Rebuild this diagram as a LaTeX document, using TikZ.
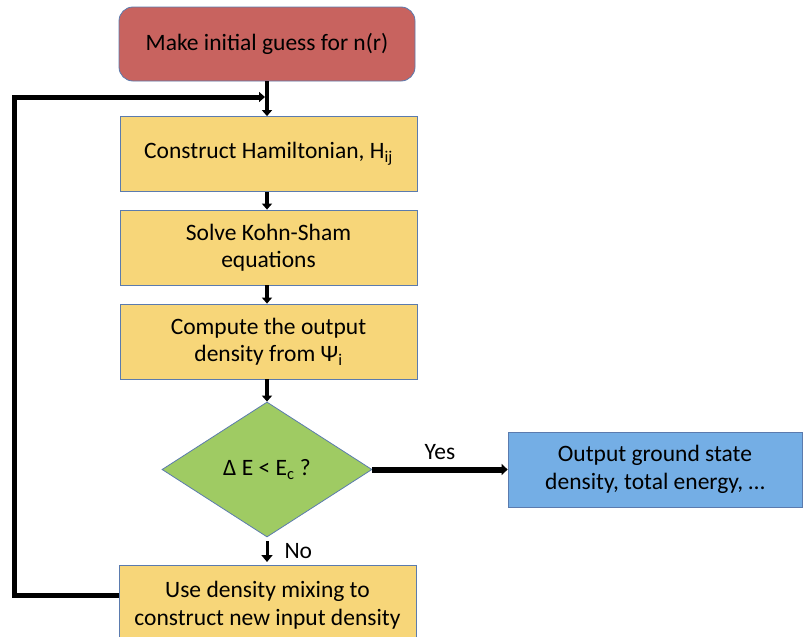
\documentclass[tikz,border=0pt]{standalone}
\usepackage{fontspec}
\setmainfont{Carlito}
\usetikzlibrary{arrows.meta,shapes.geometric}
\definecolor{redfill}{HTML}{C8635F}
\definecolor{yelfill}{HTML}{F7D679}
\definecolor{grnfill}{HTML}{9FCB63}
\definecolor{bluefill}{HTML}{74AEE5}
\definecolor{edge}{HTML}{5B7BAE}
\begin{document}
\begin{tikzpicture}[x=1pt,y=-1pt,
  box/.style={draw=edge, line width=0.8pt, fill=yelfill, minimum width=297pt, minimum height=75pt, inner sep=0pt, align=center, font=\fontsize{23.5}{27.5}\selectfont},
  flow/.style={line width=4pt, -{Triangle[length=6pt,width=10pt]}},
  lbl/.style={font=\fontsize{23.5}{27}\selectfont}]
\useasboundingbox (0,0) rectangle (803,637);
\node[box, fill=redfill, rounded corners=14pt, minimum width=296pt, minimum height=74pt] (guess) at (267,44) {Make initial guess for n(r)};
\node[box] (ham) at (268.5,154) {Construct Hamiltonian, H\textsubscript{ij}};
\node[box] (ks) at (268.5,247.5) {Solve Kohn-Sham\\equations};
\node[box] (dens) at (268.5,341.5) {Compute the output\\density from Ψ\textsubscript{i}};
\node[diamond, draw=edge, line width=0.8pt, fill=grnfill, minimum width=210pt, minimum height=135pt, aspect=1.55, inner sep=0pt, font=\fontsize{23.5}{27}\selectfont] (dec) at (267,469.5) {Δ E < E\textsubscript{c} ?};
\node[box, fill=bluefill, minimum width=294pt] (out) at (655,469.5) {Output ground state\\density, total energy, …};
\node[box, minimum height=80pt] (mix) at (267.5,605) {Use density mixing to\\construct new input density};
\coordinate (fb) at (265,97);
\draw[flow] (guess.south) -- (ham.north -| guess.south);
\draw[flow] (ham.south -| guess.south) -- (ks.north -| guess.south);
\draw[flow] (ks.south -| guess.south) -- (dens.north -| guess.south);
\draw[flow] (dens.south -| guess.south) -- (dec.north);
\draw[line width=6pt, -{Triangle[length=6pt,width=11pt]}] (dec.east) -- (out.west) node[lbl, midway, above=4pt] (yes) {Yes};
\coordinate (nostart) at (267,541);
\coordinate (noend) at (267,562);
\draw[line width=3pt, -{Triangle[length=7pt,width=11pt]}] (nostart) -- (noend);
\node[lbl, anchor=west] (no) at (281,551) {No};
\draw[line width=5pt, -{Triangle[length=6pt,width=10pt]}] (mix.west |- 0,595) -- (14,595) -- (14,97) -- (fb);
\end{tikzpicture}
\end{document}
